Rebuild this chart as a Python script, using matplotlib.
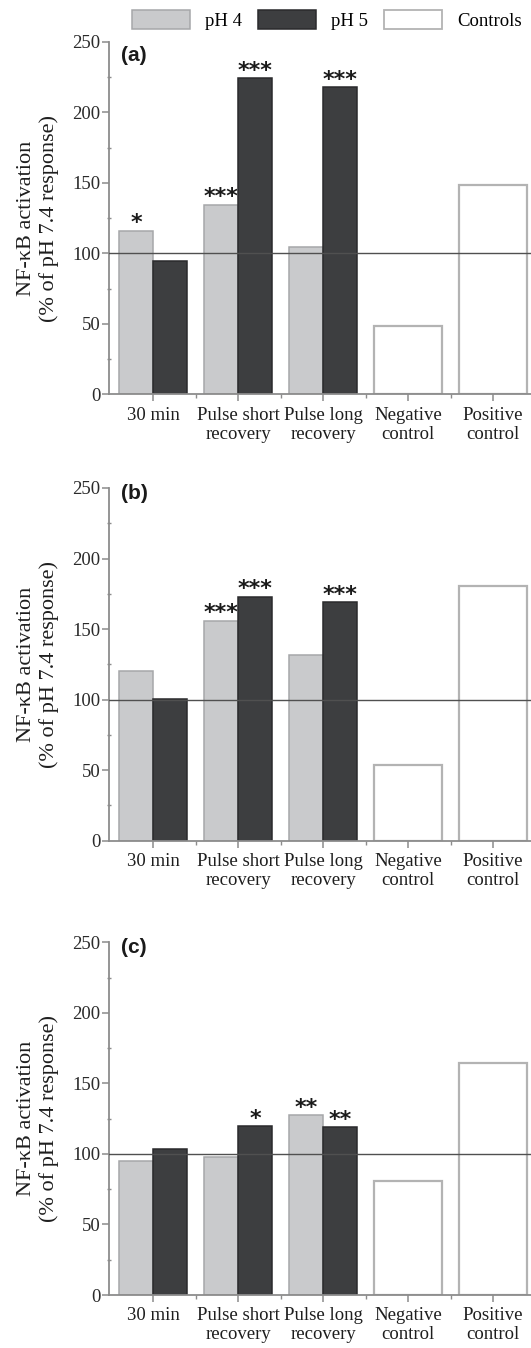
import matplotlib
matplotlib.use("Agg")
import matplotlib.pyplot as plt
from matplotlib.patches import Patch
from matplotlib.ticker import MultipleLocator, FixedLocator
import numpy as np

# categories along the x axis
categories = ['30 min', 'Pulse short\nrecovery', 'Pulse long\nrecovery',
              'Negative\ncontrol', 'Positive\ncontrol']
panel_labels = ['(a)', '(b)', '(c)']

# values (% of pH 7.4 response)
ph4_a = [116, 134.5, 104.5]
ph5_a = [94.5, 224, 218]
ctrl_a = [48.5, 148.5]

ph4_b = [120.5, 156, 131.5]
ph5_b = [100.5, 173, 169]
ctrl_b = [53.5, 180.5]

ph4_c = [95, 97.5, 127.5]
ph5_c = [103.5, 119.5, 119]
ctrl_c = [81, 164.5]

# significance marks
stars_ph4_a = ['*', '***', '']
stars_ph5_a = ['', '***', '***']
stars_ph4_b = ['', '***', '']
stars_ph5_b = ['', '***', '***']
stars_ph4_c = ['', '', '**']
stars_ph5_c = ['', '*', '**']

panels = [
    (ph4_a, ph5_a, ctrl_a, stars_ph4_a, stars_ph5_a),
    (ph4_b, ph5_b, ctrl_b, stars_ph4_b, stars_ph5_b),
    (ph4_c, ph5_c, ctrl_c, stars_ph4_c, stars_ph5_c),
]

c_ph4, e_ph4 = '#c9cacc', '#a6a7a9'
c_ph5, e_ph5 = '#3d3e40', '#2a2a2c'
c_ctl, e_ctl = '#ffffff', '#b3b3b3'
axis_gray = '#8c8c8c'

serif = 'Liberation Serif'

fig = plt.figure(figsize=(5.31, 13.48), dpi=100)
W, H = 531.0, 1348.0

# pixel layout of each panel: (y of value 0, y of value 250)
rows = [(394.3, 41.8), (840.7, 488.0), (1295.0, 942.3)]
label_y = [0.962, 0.983, 0.984]
x_left = 109.0
unit = 85.0
xmin, xmax = -0.52, 4.5

for k, (ph4, ph5, ctrl, s4, s5) in enumerate(panels):
    y0, y1 = rows[k]
    ax = fig.add_axes([x_left / W, 1 - y0 / H, (xmax - xmin) * unit / W, (y0 - y1) / H])

    x = np.arange(3)
    ax.bar(x - 0.2, ph4, width=0.4, color=c_ph4, edgecolor=e_ph4, linewidth=1.1, zorder=2)
    ax.bar(x + 0.2, ph5, width=0.4, color=c_ph5, edgecolor=e_ph5, linewidth=1.1, zorder=2)
    ax.bar([3, 4], ctrl, width=0.8, color=c_ctl, edgecolor=e_ctl, linewidth=1.6, zorder=2)

    ax.axhline(100, color='#505050', linewidth=1.0, zorder=3)

    for i in range(3):
        if s4[i]:
            ax.text(x[i] - 0.2, ph4[i] + 1, s4[i], ha='center', va='baseline',
                    fontsize=16, fontweight='bold', family='DejaVu Sans', color='#1a1a1a')
        if s5[i]:
            ax.text(x[i] + 0.2, ph5[i] + 1, s5[i], ha='center', va='baseline',
                    fontsize=16, fontweight='bold', family='DejaVu Sans', color='#1a1a1a')

    ax.set_xlim(xmin, xmax)
    ax.set_ylim(0, 250)

    for side in ['top', 'right']:
        ax.spines[side].set_visible(False)
    for side in ['left', 'bottom']:
        ax.spines[side].set_color(axis_gray)
        ax.spines[side].set_linewidth(1.3)

    ax.yaxis.set_major_locator(MultipleLocator(50))
    ax.yaxis.set_minor_locator(MultipleLocator(25))
    ax.set_xticks(range(5))
    ax.set_xticklabels(categories, family=serif, fontsize=13.5, color='#1e1e1e',
                       linespacing=1.15)
    ax.xaxis.set_minor_locator(FixedLocator([0.5, 1.5, 2.5, 3.5]))
    for lab in ax.get_yticklabels():
        lab.set_family(serif)
    ax.tick_params(axis='y', which='major', length=5, width=1.1, color=axis_gray,
                   labelsize=13.5, labelcolor='#2a2a2a', pad=1)
    ax.tick_params(axis='y', which='minor', length=2.5, width=1.0, color=axis_gray,
                   direction='inout')
    ax.tick_params(axis='x', which='major', length=5, width=1.1, color=axis_gray, pad=4)
    ax.tick_params(axis='x', which='minor', length=3, width=1.0, color=axis_gray)

    ax.set_ylabel('NF-\u03baB activation\n(% of pH 7.4 response)', family=serif,
                  fontsize=16, color='#1e1e1e', linespacing=1.2)
    ax.yaxis.set_label_coords(-0.118, 0.5)

    ax.text(0.027, label_y[k], panel_labels[k], transform=ax.transAxes, ha='left',
            va='center', fontsize=15, fontweight='bold', family='Liberation Sans',
            color='#1a1a1a')

handles = [Patch(facecolor=c_ph4, edgecolor=e_ph4, linewidth=1.1, label='pH 4'),
           Patch(facecolor=c_ph5, edgecolor=e_ph5, linewidth=1.1, label='pH 5'),
           Patch(facecolor=c_ctl, edgecolor=e_ctl, linewidth=1.3, label='Controls')]
fig.legend(handles=handles, loc='upper left', bbox_to_anchor=(132 / W, 1 - 10 / H),
           ncol=3, frameon=False, handlelength=3.1, handleheight=1.15,
           handletextpad=0.8, columnspacing=0.85, borderpad=0, borderaxespad=0,
           prop={'family': serif, 'size': 13.5})

fig.savefig('out.png', dpi=100)
